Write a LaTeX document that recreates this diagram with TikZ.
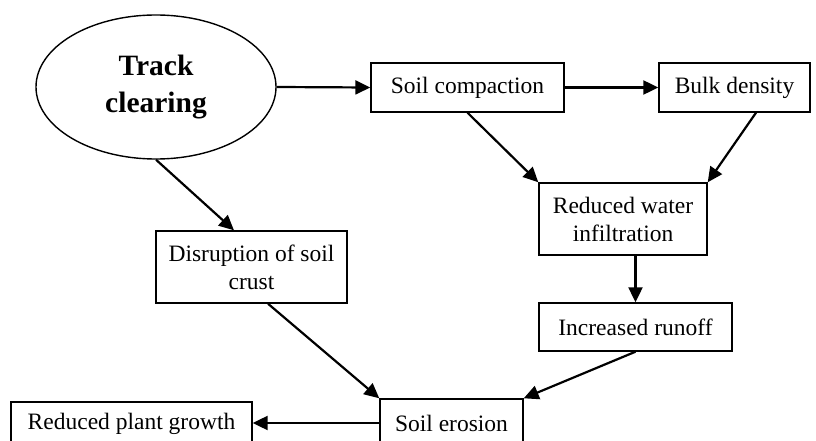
\documentclass[tikz,border=0pt]{standalone}
\usepackage{fontspec}
\setmainfont{Liberation Serif}
\usetikzlibrary{arrows.meta,shapes.geometric}
\begin{document}
\begin{tikzpicture}[x=1pt,y=-1pt,
  box/.style={draw,line width=1.4pt,rectangle,inner sep=0pt,align=center,
    font=\fontsize{23.5}{28}\selectfont},
  arr/.style={line width=2.2pt,-{Triangle[length=15pt,width=14pt]}}]
\useasboundingbox (0,0) rectangle (816,441);
\clip (0,0) rectangle (816,441);
\fill[white] (0,0) rectangle (816,441);
\node[draw,line width=1.4pt,ellipse,minimum width=240pt,minimum height=144pt,inner sep=0pt,
  align=center,font=\fontsize{29.5}{37}\selectfont\bfseries] (ell) at (156,87) {Track\\clearing};
\node[box,minimum width=193pt,minimum height=49pt] (comp) at (467.5,87.5) {Soil compaction};
\node[box,minimum width=151pt,minimum height=49pt] (bulk) at (734.5,87.5) {Bulk density};
\node[box,minimum width=168pt,minimum height=72pt] (infil) at (623,219) {Reduced water\\infiltration};
\node[box,minimum width=191pt,minimum height=72pt] (disr) at (251.5,267) {Disruption of soil\\crust};
\node[box,minimum width=193pt,minimum height=48pt] (run) at (635.5,327) {Increased runoff};
\node[box,minimum width=143pt,minimum height=48pt] (ero) at (451.5,423) {Soil erosion};
\node[box,minimum width=241pt,minimum height=44pt] (plant) at (131.5,424) {Reduced plant growth};
\draw[arr] (ell.east) -- (comp.west);
\draw[arr] (comp.east) -- (bulk.west);
\draw[arr] (comp.south) -- (infil.north west);
\draw[arr] ([xshift=21.5pt]bulk.south) -- (infil.north east);
\draw[arr] (infil.south -| run.north) -- (run.north);
\draw[arr] (ell.south) -- ([xshift=-17.5pt]disr.north);
\draw[arr] ([xshift=16.5pt]disr.south) -- (ero.north west);
\draw[arr] (run.south) -- (ero.north east);
\draw[arr] (ero.west) -- (ero.west -| plant.east);
\end{tikzpicture}
\end{document}
